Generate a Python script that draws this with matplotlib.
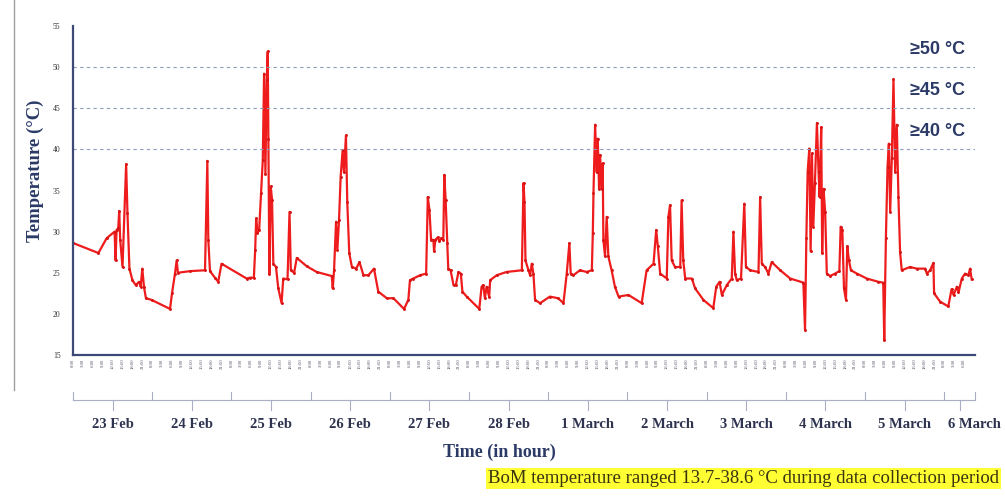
import matplotlib.pyplot as plt
import matplotlib.transforms as mtransforms
import numpy as np

hours = [0.1, 7.7, 10.2, 12.6, 12.9, 13.2, 13.7, 14.0, 14.3, 15.0, 16.1, 16.5, 17.1, 18.0,
         19.0, 20.0, 20.5, 21.0, 21.5, 22.1, 23.8, 29.4, 30.0, 30.9, 31.4, 31.8, 35.5, 40.0,
         40.7, 41.0, 41.5, 43.0, 44.0, 45.0, 52.6, 53.6, 54.8,
         55.2, 55.5, 55.9, 56.4, 57.0, 57.5, 57.9, 58.3, 58.7, 59.0, 59.2, 59.5, 59.9, 60.3,
         60.7, 61.5, 62.2, 63.2, 63.7, 65.0, 65.6, 66.0, 67.0, 67.8, 70.8, 73.8, 78.4, 78.7,
         79.1, 79.7, 80.1, 80.6, 81.1, 81.7, 82.1, 82.7, 83.1, 83.7, 84.5, 85.8, 86.8, 88.0,
         89.5, 91.2, 92.5, 95.1, 97.1, 100.3, 101.6, 102.1, 103.1, 105.2, 107.0, 107.5,
         108.0, 108.5, 109.2, 109.4, 109.8, 110.5, 111.0, 111.6, 112.2, 112.5, 112.9, 113.4,
         113.7, 114.4, 115.3, 116.0, 116.8, 117.5, 118.0, 119.3, 123.1, 123.8, 124.3, 124.8,
         125.3, 126.1, 126.4, 128.4, 131.4, 136.0, 136.5, 136.8, 137.1, 138.0, 138.5, 139.0,
         139.5, 140.0, 141.5, 144.5, 147.0, 148.6, 149.6, 150.4, 150.8, 151.6, 153.6, 155.6,
         157.2, 157.5, 157.7, 158.2, 158.7, 159.0, 159.4, 159.7, 160.2, 160.5, 160.7, 161.2,
         161.7, 162.2, 163.2, 164.2,
         165.3, 168.3, 172.3, 173.8, 175.9, 176.7, 177.2, 177.9, 179.9, 180.4, 180.9, 181.4,
         182.4, 184.0, 184.4, 184.9, 185.5, 187.5, 188.5, 191.0, 194.0, 194.9, 195.9, 196.6,
         198.1, 199.6, 200.1, 200.6, 201.1, 202.4, 203.4, 203.9, 205.2, 207.7, 208.2, 208.7,
         209.7, 210.7, 211.7, 214.3, 217.3,
         221.3, 221.8, 222.2, 222.6, 223.1, 223.5, 223.9, 224.3, 224.8, 225.4, 225.9, 226.2,
         226.7, 227.0, 227.4, 227.9, 228.4, 229.4, 230.9, 232.2, 232.6, 233.1, 233.6, 234.2,
         234.6, 235.1, 235.7, 237.5, 240.5, 244.0, 245.5, 245.8, 246.3, 246.8, 247.2, 247.6,
         248.1, 248.6, 249.1, 249.6, 250.1, 250.6, 251.1, 253.6, 255.7, 258.2, 258.7, 259.7,
         260.7, 260.9, 262.7, 265.2, 266.2, 266.8, 267.8, 268.3, 269.3, 270.3, 271.3, 271.8,
         272.3]
temps = [28.6, 27.4, 29.2, 30.0, 26.5, 30.2, 30.4, 32.5, 29.0, 25.7, 38.2, 32.3, 25.5, 24.1,
         23.5, 23.9, 23.3, 25.5, 23.3, 21.9, 21.7, 20.6, 22.5, 24.9, 26.5, 25.0, 25.2, 25.3,
         38.6, 29.0, 25.2, 24.4, 23.9, 26.1, 24.3, 24.4, 24.4,
         27.8, 31.6, 29.8, 30.2, 34.7, 38.7, 49.2, 37.0, 48.4, 51.9, 41.3, 24.9, 35.5, 33.9,
         26.1, 25.7, 23.1, 21.3, 24.3, 24.2, 32.4, 25.3, 25.0, 26.8, 25.8, 25.1, 24.6, 23.1,
         25.3, 31.2, 27.8, 31.4, 36.7, 39.9, 37.2, 41.7, 33.6, 27.4, 25.7, 25.5, 26.3, 24.7,
         24.7, 25.5, 22.7, 21.9, 21.9, 20.6, 21.7, 24.1, 24.3, 24.7, 24.9, 34.2,
         32.6, 29.0, 29.0, 27.6, 29.0, 29.3, 28.8, 29.2, 29.0, 36.9, 33.9, 28.6,
         25.5, 25.3, 23.5, 23.5, 25.1, 24.9, 22.7, 22.1, 20.6, 23.3, 23.5, 21.9,
         23.3, 22.1, 24.1, 24.7, 25.1, 25.3, 35.9, 33.6, 26.5, 25.3, 24.7, 26.1,
         24.9, 21.7, 21.3, 22.1, 21.9, 21.3, 24.9, 28.6, 24.9, 24.7, 25.3, 25.1,
         25.3, 29.8, 34.7, 43.0, 37.2, 41.3, 35.2, 39.3, 35.2, 38.3, 29.0, 27.0,
         31.8, 27.0, 25.3, 23.3,
         22.1, 22.3, 21.3, 25.3, 26.1, 30.2, 28.2, 24.9, 24.3, 31.8, 33.2, 26.5,
         25.7, 25.7, 33.8, 26.5, 24.3, 24.3, 23.1, 21.7, 20.7, 23.3, 23.9, 22.3,
         23.5, 24.3, 30.0, 24.9, 24.1, 24.3, 33.4, 25.7, 25.3, 25.1, 34.2, 26.1,
         25.7, 24.9, 26.3, 25.3, 24.3,
         23.8, 18.0, 29.2, 37.3, 40.1, 27.6, 39.5, 30.6, 35.9, 43.2, 37.3, 34.2,
         42.7, 27.4, 35.2, 32.4, 24.9, 24.6, 24.9, 25.2, 30.6, 30.2, 23.1, 21.7,
         28.2, 26.5, 25.3, 24.9, 24.3, 23.9, 23.8, 16.8, 29.2, 37.9, 40.7, 32.4,
         39.0, 48.5, 37.3, 43.0, 34.2, 27.5, 25.3, 25.7, 25.5, 25.5, 24.9, 25.3,
         26.2, 22.5, 21.5, 20.9, 23.0, 22.3, 23.3, 22.6, 24.3, 24.9, 24.7, 25.5,
         24.2]

days = ['23 Feb', '24 Feb', '25 Feb', '26 Feb', '27 Feb', '28 Feb', '1 March',
        '2 March', '3 March', '4 March', '5 March', '6 March']
thresholds = [50, 45, 40]
end_hour = 273.3

navy = '#2b3a66'
serif = ['Liberation Serif', 'DejaVu Serif']

fig = plt.figure(figsize=(10.05, 5.04), dpi=100)
ax = fig.add_axes([73 / 1005, 1 - 355 / 504, 902 / 1005, 329 / 504])

ax.plot(hours, temps, color='#ee1c1c', lw=1.6, marker='o', ms=1.1, mec='#d81414')

for t in thresholds:
    ax.axhline(t, color='#8e9cbc', lw=0.8, ls=(0, (3, 3)))
    ax.text(end_hour - 3, t + 1.1, f'≥{t} °C', ha='right', va='bottom', fontsize=13,
            fontweight='bold', color=navy, family=['Liberation Sans', 'DejaVu Sans'])

ax.set_xlim(0, end_hour)
ax.set_ylim(15, 55)
ax.set_yticks(np.arange(15, 56, 5))
ax.tick_params(axis='y', length=0, pad=9, labelsize=5.5, labelcolor='#333333')
for lab in ax.get_yticklabels():
    lab.set_family(serif)

ticks = np.arange(0, 271, 3)
ax.set_xticks(ticks)
ax.set_xticklabels([f'{int(h) % 24}:00' for h in ticks], rotation=90, fontsize=3.4,
                   color='#555566', family=serif)
ax.tick_params(axis='x', length=0, pad=2.5)

for side in ['top', 'right']:
    ax.spines[side].set_visible(False)
for side in ['left', 'bottom']:
    ax.spines[side].set_color('#3d4a78')
    ax.spines[side].set_linewidth(1.6)

ax.set_ylabel('Temperature (°C)', fontsize=13.5, fontweight='bold', color=navy,
              family=serif, labelpad=6)
ax.yaxis.set_label_coords(-0.032, 0.56)

# day brackets under the hour labels
trans = mtransforms.blended_transform_factory(ax.transData, ax.transAxes)
yb = -0.137
ax.plot([0, end_hour], [yb, yb], color='#a9aec4', lw=0.8, transform=trans, clip_on=False)
edges = [24 * i for i in range(len(days))] + [end_hour]
for e in edges:
    ax.plot([e, e], [yb, yb + 0.025], color='#a9aec4', lw=0.8, transform=trans, clip_on=False)
for i, d in enumerate(days):
    mid = (edges[i] + edges[i + 1]) / 2
    ax.plot([mid, mid], [yb, yb - 0.03], color='#a9aec4', lw=0.8, transform=trans,
            clip_on=False)
    lx = mid if i < len(days) - 1 else edges[i] + 9
    ax.text(lx, -0.21, d, transform=trans, ha='center', va='center', fontsize=10.5,
            fontweight='bold', color='#2e3350', family=serif)

fig.text(0.497, 0.103, 'Time (in hour)', ha='center', va='center', fontsize=13,
         fontweight='bold', color=navy, family=serif)

fig.text(488 / 1005, 0.05, 'BoM temperature ranged 13.7-38.6 °C during data collection period',
         ha='left', va='center', fontsize=13.5, color='#3a3410', family=serif,
         bbox=dict(boxstyle='square,pad=0.1', fc='#ffff33', ec='none'))

# slide frame line on the left
fig.add_artist(plt.Line2D([14 / 1005, 14 / 1005], [1 - 390 / 504, 1], color='#a0a0a0', lw=1.0))

fig.savefig('out.png', dpi=100)
